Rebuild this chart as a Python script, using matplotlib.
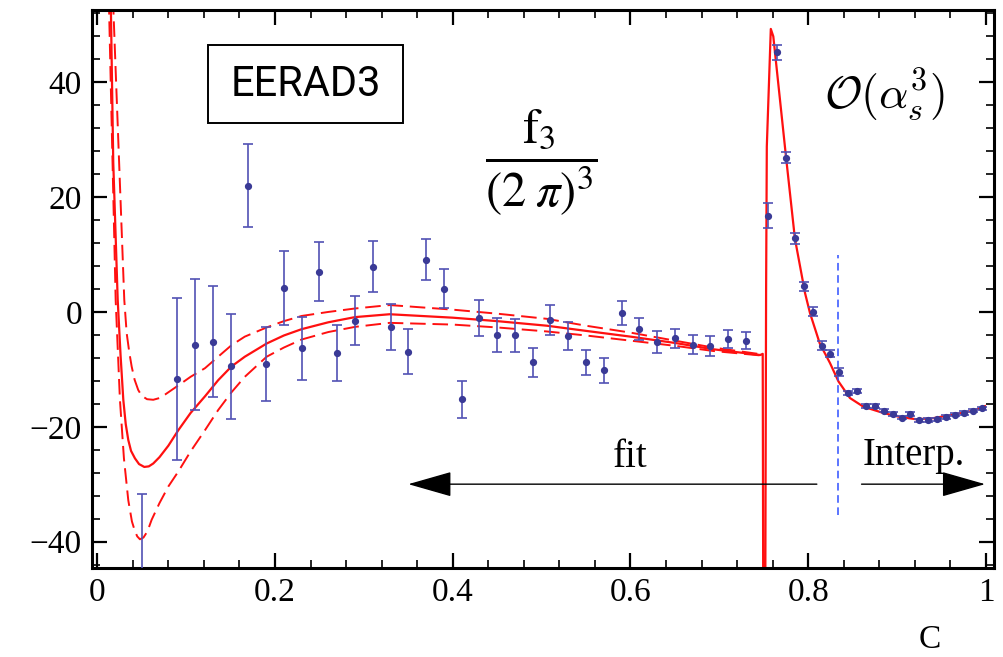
import matplotlib
matplotlib.use("Agg")
import matplotlib.pyplot as plt
from matplotlib.patches import Rectangle, FancyArrowPatch
from matplotlib.ticker import MultipleLocator, FixedLocator, FixedFormatter

# ---------------- data ----------------
# EERAD3 bins used in the fit region
x_fit = [0.05, 0.09, 0.11, 0.13, 0.15, 0.17, 0.19, 0.21, 0.23, 0.25, 0.27,
         0.29, 0.31, 0.33, 0.35, 0.37, 0.39, 0.41, 0.43, 0.45, 0.47, 0.49,
         0.51, 0.53, 0.55, 0.57, 0.59, 0.61, 0.63, 0.65, 0.67, 0.69, 0.71, 0.73]
y_fit = [-58.0, -11.7, -5.7, -5.2, -9.5, 22.0, -9.1, 4.2, -6.3, 7.0, -7.2,
         -1.5, 7.9, -2.6, -6.9, 9.1, 4.0, -15.2, -1.1, -4.0, -4.1, -8.8,
         -1.4, -4.2, -8.8, -10.2, -0.2, -3.0, -5.3, -4.6, -5.7, -5.9, -4.7, -5.0]
e_fit = [26.3, 14.1, 11.4, 9.7, 9.1, 7.2, 6.5, 6.4, 5.5, 5.1, 4.9,
         4.3, 4.4, 4.0, 3.9, 3.6, 3.4, 3.2, 3.1, 2.9, 2.8, 2.5,
         2.6, 2.4, 2.2, 2.2, 2.1, 1.9, 1.9, 1.7, 1.6, 1.7, 1.5, 1.5]

# EERAD3 bins in the interpolation region
x_int = [0.755, 0.765, 0.775, 0.785, 0.795, 0.805, 0.815, 0.825, 0.835,
         0.845, 0.855, 0.865, 0.875, 0.885, 0.895, 0.905, 0.915, 0.925,
         0.935, 0.945, 0.955, 0.965, 0.975, 0.985, 0.995]
y_int = [16.8, 45.2, 26.9, 12.8, 4.5, 0.05, -5.9, -7.3, -10.4,
         -14.1, -13.8, -16.4, -16.4, -17.2, -17.8, -18.4, -17.8, -18.9,
         -18.8, -18.7, -18.3, -17.9, -17.6, -17.2, -16.8]
e_int = [2.1, 1.3, 1.0, 0.9, 0.8, 0.8, 0.8, 0.6, 0.7,
         0.3, 0.3, 0.3, 0.3, 0.3, 0.3, 0.3, 0.3, 0.3,
         0.3, 0.3, 0.3, 0.3, 0.3, 0.3, 0.3]

# central fit + interpolation curve
x_central = [0.0150, 0.0180, 0.0230, 0.0262, 0.0293, 0.0320, 0.0349, 0.0380,
             0.0424, 0.0470, 0.0529, 0.0580, 0.063, 0.070, 0.080,
             0.0912, 0.105, 0.1212, 0.136, 0.151, 0.166, 0.1906, 0.210,
             0.230, 0.260, 0.290, 0.329, 0.400, 0.450, 0.506, 0.550, 0.600,
             0.650, 0.693, 0.746,
             0.7488, 0.7495, 0.7515, 0.7526, 0.7534, 0.7579, 0.7607, 0.7746,
             0.785, 0.7964, 0.802, 0.813, 0.8245, 0.834, 0.847, 0.862,
             0.8845, 0.9033, 0.922, 0.9407, 0.963, 0.9857, 0.9989]
y_central = [56.0, 26.0, 2.1, -7.5, -15.3, -19.5, -22.3, -24.2,
             -25.5, -26.5, -27.0, -26.9, -26.4, -25.3, -23.3,
             -20.6, -17.6, -14.7, -11.9, -9.5, -7.8, -5.5, -4.1,
             -3.0, -1.8, -0.9, -0.4, -1.0, -1.6, -2.4, -3.3, -4.3,
             -5.4, -6.5, -7.5,
             -7.3, -60.0, -60.0, 3.8, 28.8, 49.3, 48.0, 27.6,
             12.8, 3.3, -0.2, -5.5, -8.9, -12.1, -15.0, -16.5,
             -17.6, -18.3, -18.7, -18.5, -17.9, -17.2, -16.4]

# upper / lower error band of the fit
x_upper = [0.0175, 0.0183, 0.0304, 0.0331, 0.0360, 0.0387, 0.0420, 0.0461,
           0.0500, 0.0560, 0.063, 0.0700, 0.0762, 0.0912, 0.105, 0.1212,
           0.136, 0.151, 0.166, 0.1906, 0.210, 0.230, 0.260, 0.290, 0.329,
           0.400, 0.450, 0.506, 0.550, 0.600, 0.650, 0.693, 0.748]
y_upper = [56.0, 52.0, 2.1, -3.7, -7.0, -9.5, -11.8, -13.6,
           -14.6, -15.2, -15.3, -15.0, -14.4, -12.8, -11.3, -9.8,
           -7.8, -5.8, -4.3, -2.7, -1.6, -0.7, 0.0, 0.6, 1.2,
           0.4, -0.3, -1.2, -2.4, -3.6, -5.0, -6.2, -7.4]
x_lower = [0.0128, 0.0207, 0.0255, 0.0300, 0.0349, 0.0390, 0.0424, 0.0450,
           0.048, 0.0520, 0.0565, 0.0612, 0.070, 0.080, 0.0912, 0.105,
           0.1212, 0.136, 0.151, 0.166, 0.1906, 0.210, 0.230, 0.260, 0.290,
           0.329, 0.400, 0.450, 0.506, 0.550, 0.600, 0.650, 0.693, 0.748]
y_lower = [56.0, 2.1, -15.3, -25.5, -32.8, -36.5, -38.2, -39.1,
           -39.6, -39.3, -38.2, -36.2, -33.3, -30.4, -27.8, -24.3,
           -20.6, -17.1, -14.0, -11.3, -7.8, -6.2, -4.8, -3.5, -2.6,
           -1.9, -2.2, -2.7, -3.4, -4.1, -5.0, -5.9, -6.8, -7.6]

x_ticks = [0, 0.2, 0.4, 0.6, 0.8, 1]
x_tick_labels = ["0", "0.2", "0.4", "0.6", "0.8", "1"]
y_ticks = [-40, -20, 0, 20, 40]
y_tick_labels = ["\u221240", "\u221220", "0", "20", "40"]

x_split = 0.834          # fit / interpolation boundary
band_y = [-35.4, 9.9]    # vertical extent of the boundary marker

# ---------------- figure ----------------
fig = plt.figure(figsize=(10.04, 6.57), dpi=100)
ax = fig.add_axes([0.0913, 0.1355, 0.8987, 0.8493])

red = "#ff1010"
ax.plot(x_central, y_central, color=red, lw=1.6, zorder=2)
ax.plot(x_upper, y_upper, color=red, lw=1.4, dashes=(8, 3.5), zorder=2)
ax.plot(x_lower, y_lower, color=red, lw=1.4, dashes=(8, 3.5), zorder=2)

pt_col = "#3a3a96"
bar_col = "#5252b4"
for xs, ys, es in [(x_fit, y_fit, e_fit), (x_int, y_int, e_int)]:
    ax.errorbar(xs, ys, yerr=es, fmt="o", color=pt_col, ms=4.2,
                ecolor=bar_col, elinewidth=1.2, capsize=3.5, capthick=1.2,
                zorder=3)

ax.plot([x_split, x_split], band_y, color="#2f4fff", lw=1.1, dashes=(5, 3),
        zorder=2)

# arrows
y_arrow = -30.0
style = "-|>,head_length=2.8,head_width=0.8"
ax.add_patch(FancyArrowPatch((0.8097, y_arrow), (0.350, y_arrow),
                             arrowstyle=style, mutation_scale=10,
                             color="black", lw=1.0, zorder=4,
                             shrinkA=0, shrinkB=0))
ax.add_patch(FancyArrowPatch((0.860, y_arrow), (0.999, y_arrow),
                             arrowstyle=style, mutation_scale=10,
                             color="black", lw=1.0, zorder=4,
                             shrinkA=0, shrinkB=0))

serif = "Liberation Serif"
ax.text(0.600, -25.3, "fit", ha="center", va="center", fontsize=28,
        family=serif)
ax.text(0.919, -25.0, "Interp.", ha="center", va="center", fontsize=28,
        family=serif)

ax.text(0.4994, 26.0, r"$\dfrac{\mathrm{f}_3}{(2\;\pi)^3}$", ha="center",
        va="center", fontsize=35, math_fontfamily="stix")
ax.text(0.886, 37.8, r"$\mathcal{O}(\alpha_s^3)$", ha="center",
        va="center", fontsize=33, math_fontfamily="cm")

# EERAD3 box
ax.add_patch(Rectangle((0.129, 0.7975), 0.216, 0.1395, transform=ax.transAxes,
                       fill=False, edgecolor="black", lw=1.4, zorder=5))
ax.text(0.237, 0.867, "EERAD3", transform=ax.transAxes, ha="center",
        va="center", fontsize=30, family="Roboto", zorder=5)

# axes styling
ax.set_xlim(-0.0063, 1.009)
ax.set_ylim(-44.6, 52.6)
ax.xaxis.set_major_locator(FixedLocator(x_ticks))
ax.xaxis.set_major_formatter(FixedFormatter(x_tick_labels))
ax.xaxis.set_minor_locator(MultipleLocator(0.04))
ax.yaxis.set_major_locator(FixedLocator(y_ticks))
ax.yaxis.set_major_formatter(FixedFormatter(y_tick_labels))
ax.yaxis.set_minor_locator(MultipleLocator(4))
ax.tick_params(which="both", direction="in", top=True, right=True)
ax.tick_params(which="major", length=11, width=1.6, labelsize=24, pad=7)
ax.tick_params(which="minor", length=5.5, width=1.2)
for lab in ax.get_xticklabels() + ax.get_yticklabels():
    lab.set_family(serif)
for sp in ax.spines.values():
    sp.set_linewidth(2.2)

fig.text(930 / 1004, 1 - 640 / 657, "C", ha="center", va="center",
         fontsize=24, family=serif)

fig.savefig("out.png", dpi=100)
